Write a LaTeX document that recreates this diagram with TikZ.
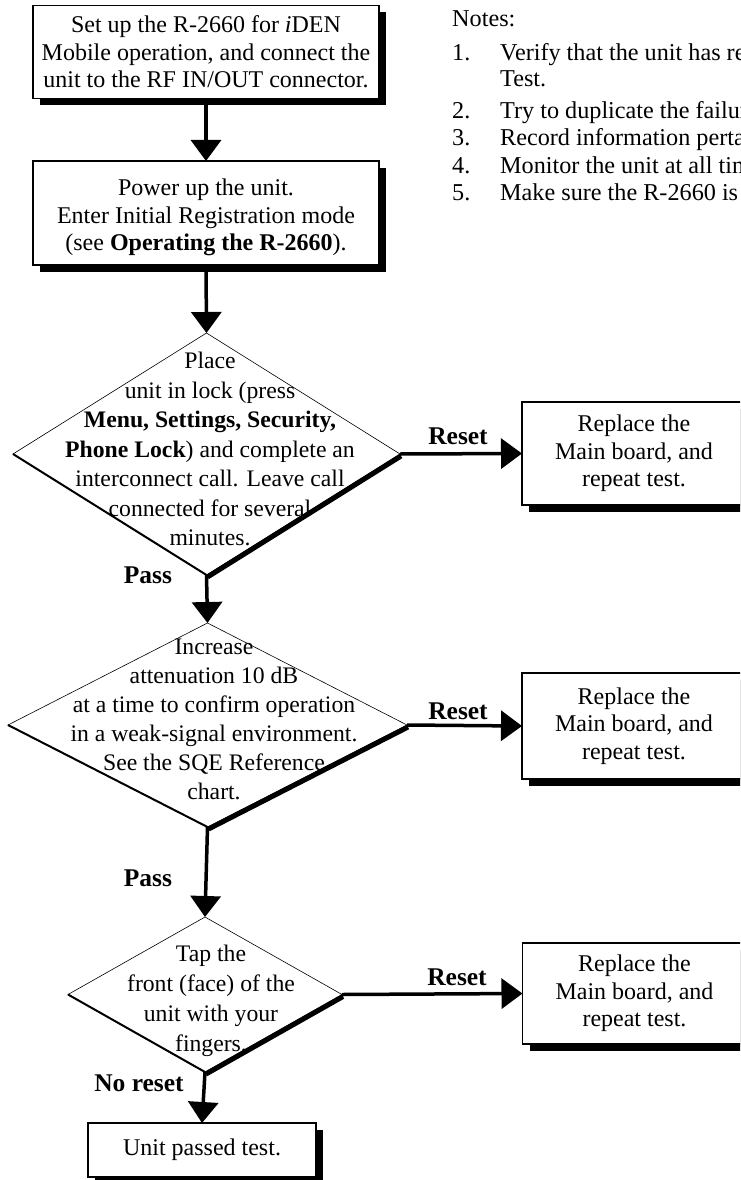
\documentclass[tikz,border=0pt]{standalone}
\usepackage{fontspec}
\setmainfont{Liberation Serif}
\usetikzlibrary{arrows.meta,shapes.geometric,shadows}

\begin{document}
\begin{tikzpicture}[x=1pt,y=-1pt,font=\fontsize{24}{27.5}\selectfont,
    box/.style={draw,line width=1.2pt,fill=white,align=center,inner sep=0pt,outer sep=0pt,
      drop shadow={shadow xshift=7pt,shadow yshift=-7pt,opacity=1,fill=black}},
    decision/.style={diamond,draw,line width=.6pt,inner sep=0pt,outer sep=0pt},
    dtext/.style={align=center,font=\fontsize{23.7}{29.5}\selectfont},
    flow/.style={line width=3.5pt,-{Triangle[width=30pt,length=21pt]}},
    lab/.style={font=\fontsize{25.5}{28}\selectfont\bfseries},
    note/.style={anchor=base west,inner sep=0pt,font=\fontsize{24.2}{28}\selectfont}]
  \useasboundingbox (0,0) rectangle (740,1180);
  \clip (0,0) rectangle (740,1180);
  \node[box,minimum width=346pt,minimum height=93pt] (setup) at (206,52) {Set up the R-2660 for \textit{i}DEN\\Mobile operation, and connect the\\unit to the RF IN/OUT connector.};
  \node[box,minimum width=346pt,minimum height=104pt] (power) at (206,213) {\rule{0pt}{26pt}Power up the unit.\\Enter Initial Registration mode\\(see \textbf{Operating the R-2660}).};
  \node[decision,minimum width=387pt,minimum height=242pt] (lock) at (206.5,454) {};
  \node[decision,minimum width=399pt,minimum height=204pt] (atten) at (207.5,725) {};
  \node[decision,minimum width=274pt,minimum height=155pt] (tap) at (205,994.5) {};
  \foreach \d in {lock,atten,tap}{
    \draw[line width=2pt] (\d.west) -- (\d.south);
    \draw[line width=5pt] ([shift={(1,2)}]\d.south) -- ([shift={(1,2)}]\d.east);
  }
  \node[dtext] (lock-txt) at (210,449) {Place\\unit in lock (press\\\textbf{Menu, Settings, Security,}\\\textbf{Phone Lock}) and complete an\\interconnect call. Leave call\\connected for several\\minutes.};
  \node[dtext,font=\fontsize{23.7}{29}\selectfont] (atten-txt) at (214,719.5) {Increase\\attenuation 10 dB\\at a time to confirm operation\\in a weak-signal environment.\\See the SQE Reference\\chart.};
  \node[dtext,font=\fontsize{23.7}{30}\selectfont] (tap-txt) at (211,1000.5) {Tap the\\front (face) of the\\unit with your\\fingers.};
  \node[box,minimum width=224pt,minimum height=103pt] (rep1) at (634,453.5) {Replace the\\Main board, and\\repeat test.};
  \node[box,minimum width=224pt,minimum height=106pt] (rep2) at (634,726) {Replace the\\Main board, and\\repeat test.};
  \node[box,minimum width=224pt,minimum height=101pt] (rep3) at (634.5,993.5) {Replace the\\Main board, and\\repeat test.};
  \node[box,minimum width=228pt,minimum height=54pt] (done) at (202,1150) {Unit passed test.};
  \draw[flow] (setup.south) -- (power.north);
  \draw[flow] (power.south) -- (lock.north);
  \draw[flow] (lock.south) -- (atten.north);
  \draw[flow] (atten.south) -- (tap.north);
  \draw[flow] (tap.south) -- (done.north);
  \draw[flow] (lock.east) -- (rep1.west);
  \draw[flow] (atten.east) -- (rep2.west);
  \draw[flow] (tap.east) -- (rep3.west);
  \node[lab] (reset1) at (458,436) {Reset};
  \node[lab] (reset2) at (458,711) {Reset};
  \node[lab] (reset3) at (457,977) {Reset};
  \node[lab] (pass1) at (148,575) {Pass};
  \node[lab] (pass2) at (148,878) {Pass};
  \node[lab] (noreset) at (139,1083) {No reset};
  \node[note] (notes) at (452,27) {Notes:};
  \node[note] (test) at (500,87) {Test.};
  \foreach \n/\y/\t in {1/60.3/Verify that the unit has received the,2/118.7/Try to duplicate the failure,3/145.3/Record information pertaining,4/173.7/Monitor the unit at all times,5/200.3/Make sure the R-2660 is set}{
    \node[note] (num\n) at (452,\y) {\n.};
    \node[note] (item\n) at (500,\y) {\t};
  }
\end{tikzpicture}
\end{document}
